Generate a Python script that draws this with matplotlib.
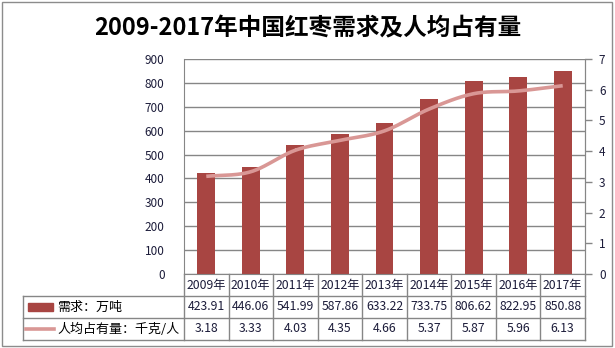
import numpy as np
import matplotlib
matplotlib.use("Agg")
import matplotlib.pyplot as plt
from matplotlib.patches import Rectangle
from matplotlib.lines import Line2D

plt.rcParams['font.family'] = ['Noto Sans CJK SC', 'DejaVu Sans']

years = ["2009年", "2010年", "2011年", "2012年", "2013年", "2014年", "2015年", "2016年", "2017年"]
demand = [423.91, 446.06, 541.99, 587.86, 633.22, 733.75, 806.62, 822.95, 850.88]
per_capita = [3.18, 3.33, 4.03, 4.35, 4.66, 5.37, 5.87, 5.96, 6.13]
demand_label = "需求：万吨"
capita_label = "人均占有量：千克/人"

bar_color = '#A84542'
line_color = '#D99795'
grid_color = '#868686'
text_color = '#1c1c3a'


def smooth(x, y, n=24):
    # catmull-rom curve through the points, like a smoothed line in a spreadsheet chart
    x = np.asarray(x, float)
    y = np.asarray(y, float)
    px = np.concatenate([[2 * x[0] - x[1]], x, [2 * x[-1] - x[-2]]])
    py = np.concatenate([[2 * y[0] - y[1]], y, [2 * y[-1] - y[-2]]])
    xs, ys = [], []
    t = np.linspace(0, 1, n)
    for i in range(1, len(px) - 2):
        for p, out in ((px, xs), (py, ys)):
            p0, p1, p2, p3 = p[i - 1], p[i], p[i + 1], p[i + 2]
            out.extend(0.5 * (2 * p1 + (-p0 + p2) * t
                              + (2 * p0 - 5 * p1 + 4 * p2 - p3) * t ** 2
                              + (-p0 + 3 * p1 - 3 * p2 + p3) * t ** 3))
    return np.array(xs), np.array(ys)


fig = plt.figure(figsize=(6.15, 3.48), dpi=100)
W, H = 615, 348
fig.patches.append(Rectangle((2 / W, 2 / H), 610 / W, 344 / H, transform=fig.transFigure,
                             fill=False, edgecolor='#8c8c8c', linewidth=1))

fig.text(0.5, 1 - 28 / H, "2009-2017年中国红枣需求及人均占有量", ha='center', va='center',
         fontsize=17, fontweight='bold', color='black')

ax = fig.add_axes([184 / W, 74 / H, 401 / W, 215 / H])
x = np.arange(len(years))
ax.bar(x, demand, width=0.4, color=bar_color, zorder=2)
ax.set_xlim(-0.5, len(years) - 0.5)
ax.set_ylim(0, 900)
ax.set_yticks(range(0, 901, 100))
ax.grid(axis='y', color=grid_color, linewidth=1, zorder=0)
ax.set_axisbelow(True)
ax.set_xticks([])
ax.tick_params(axis='y', length=0, pad=14, labelsize=8.5, labelcolor=text_color)
ax.spines['top'].set_visible(False)
for side in ['left', 'bottom', 'right']:
    ax.spines[side].set_color(grid_color)

ax2 = ax.twinx()
sx, sy = smooth(x, per_capita)
ax2.plot(sx, sy, color=line_color, linewidth=2.6, solid_capstyle='butt', zorder=3)
ax2.set_ylim(0, 7)
ax2.set_yticks(range(0, 8))
ax2.tick_params(axis='y', length=5, width=1, color=grid_color, pad=5,
                labelsize=8.5, labelcolor=text_color)
ax2.spines['top'].set_visible(False)
ax2.spines['left'].set_visible(False)
ax2.spines['bottom'].set_visible(False)
ax2.spines['right'].set_color(grid_color)

# data table under the plot
row_h = 22 / 215
rows = [0, -row_h, -2 * row_h, -3 * row_h]
tx = ax.get_xaxis_transform()
left = (23 - 184) / 401
kw = dict(color=grid_color, linewidth=1, clip_on=False)
for r in rows[1:]:
    ax.add_line(Line2D([left, 1], [r, r], transform=ax.transAxes, **kw))
ax.add_line(Line2D([left, left], [rows[1], rows[3]], transform=ax.transAxes, **kw))
for b in np.arange(len(years) + 1) - 0.5:
    ax.add_line(Line2D([b, b], [rows[0], rows[3]], transform=tx, **kw))

table_fs = 8.8
for i, yr in enumerate(years):
    ax.text(x[i], (rows[0] + rows[1]) / 2, yr, transform=tx, ha='center', va='center',
            fontsize=table_fs, color=text_color)
    ax.text(x[i], (rows[1] + rows[2]) / 2, f"{demand[i]:.2f}", transform=tx, ha='center',
            va='center', fontsize=table_fs, color=text_color)
    ax.text(x[i], (rows[2] + rows[3]) / 2, f"{per_capita[i]:.2f}", transform=tx, ha='center',
            va='center', fontsize=table_fs, color=text_color)

# legend keys in the first column
key_l, key_r = (28 - 184) / 401, (53 - 184) / 401
ym = (rows[1] + rows[2]) / 2
ax.add_patch(Rectangle((key_l, ym - 0.018), key_r - key_l, 0.036, transform=ax.transAxes,
                       color=bar_color, clip_on=False))
ax.text((57 - 184) / 401, ym, demand_label, transform=ax.transAxes, ha='left', va='center',
        fontsize=9.4, color='black')
ym = (rows[2] + rows[3]) / 2
ax.add_line(Line2D([(26 - 184) / 401, (54 - 184) / 401], [ym, ym], transform=ax.transAxes,
                   color=line_color, linewidth=2.6, clip_on=False))
ax.text((57 - 184) / 401, ym, capita_label, transform=ax.transAxes, ha='left', va='center',
        fontsize=9.4, color='black')

fig.savefig("out.png", dpi=100)
